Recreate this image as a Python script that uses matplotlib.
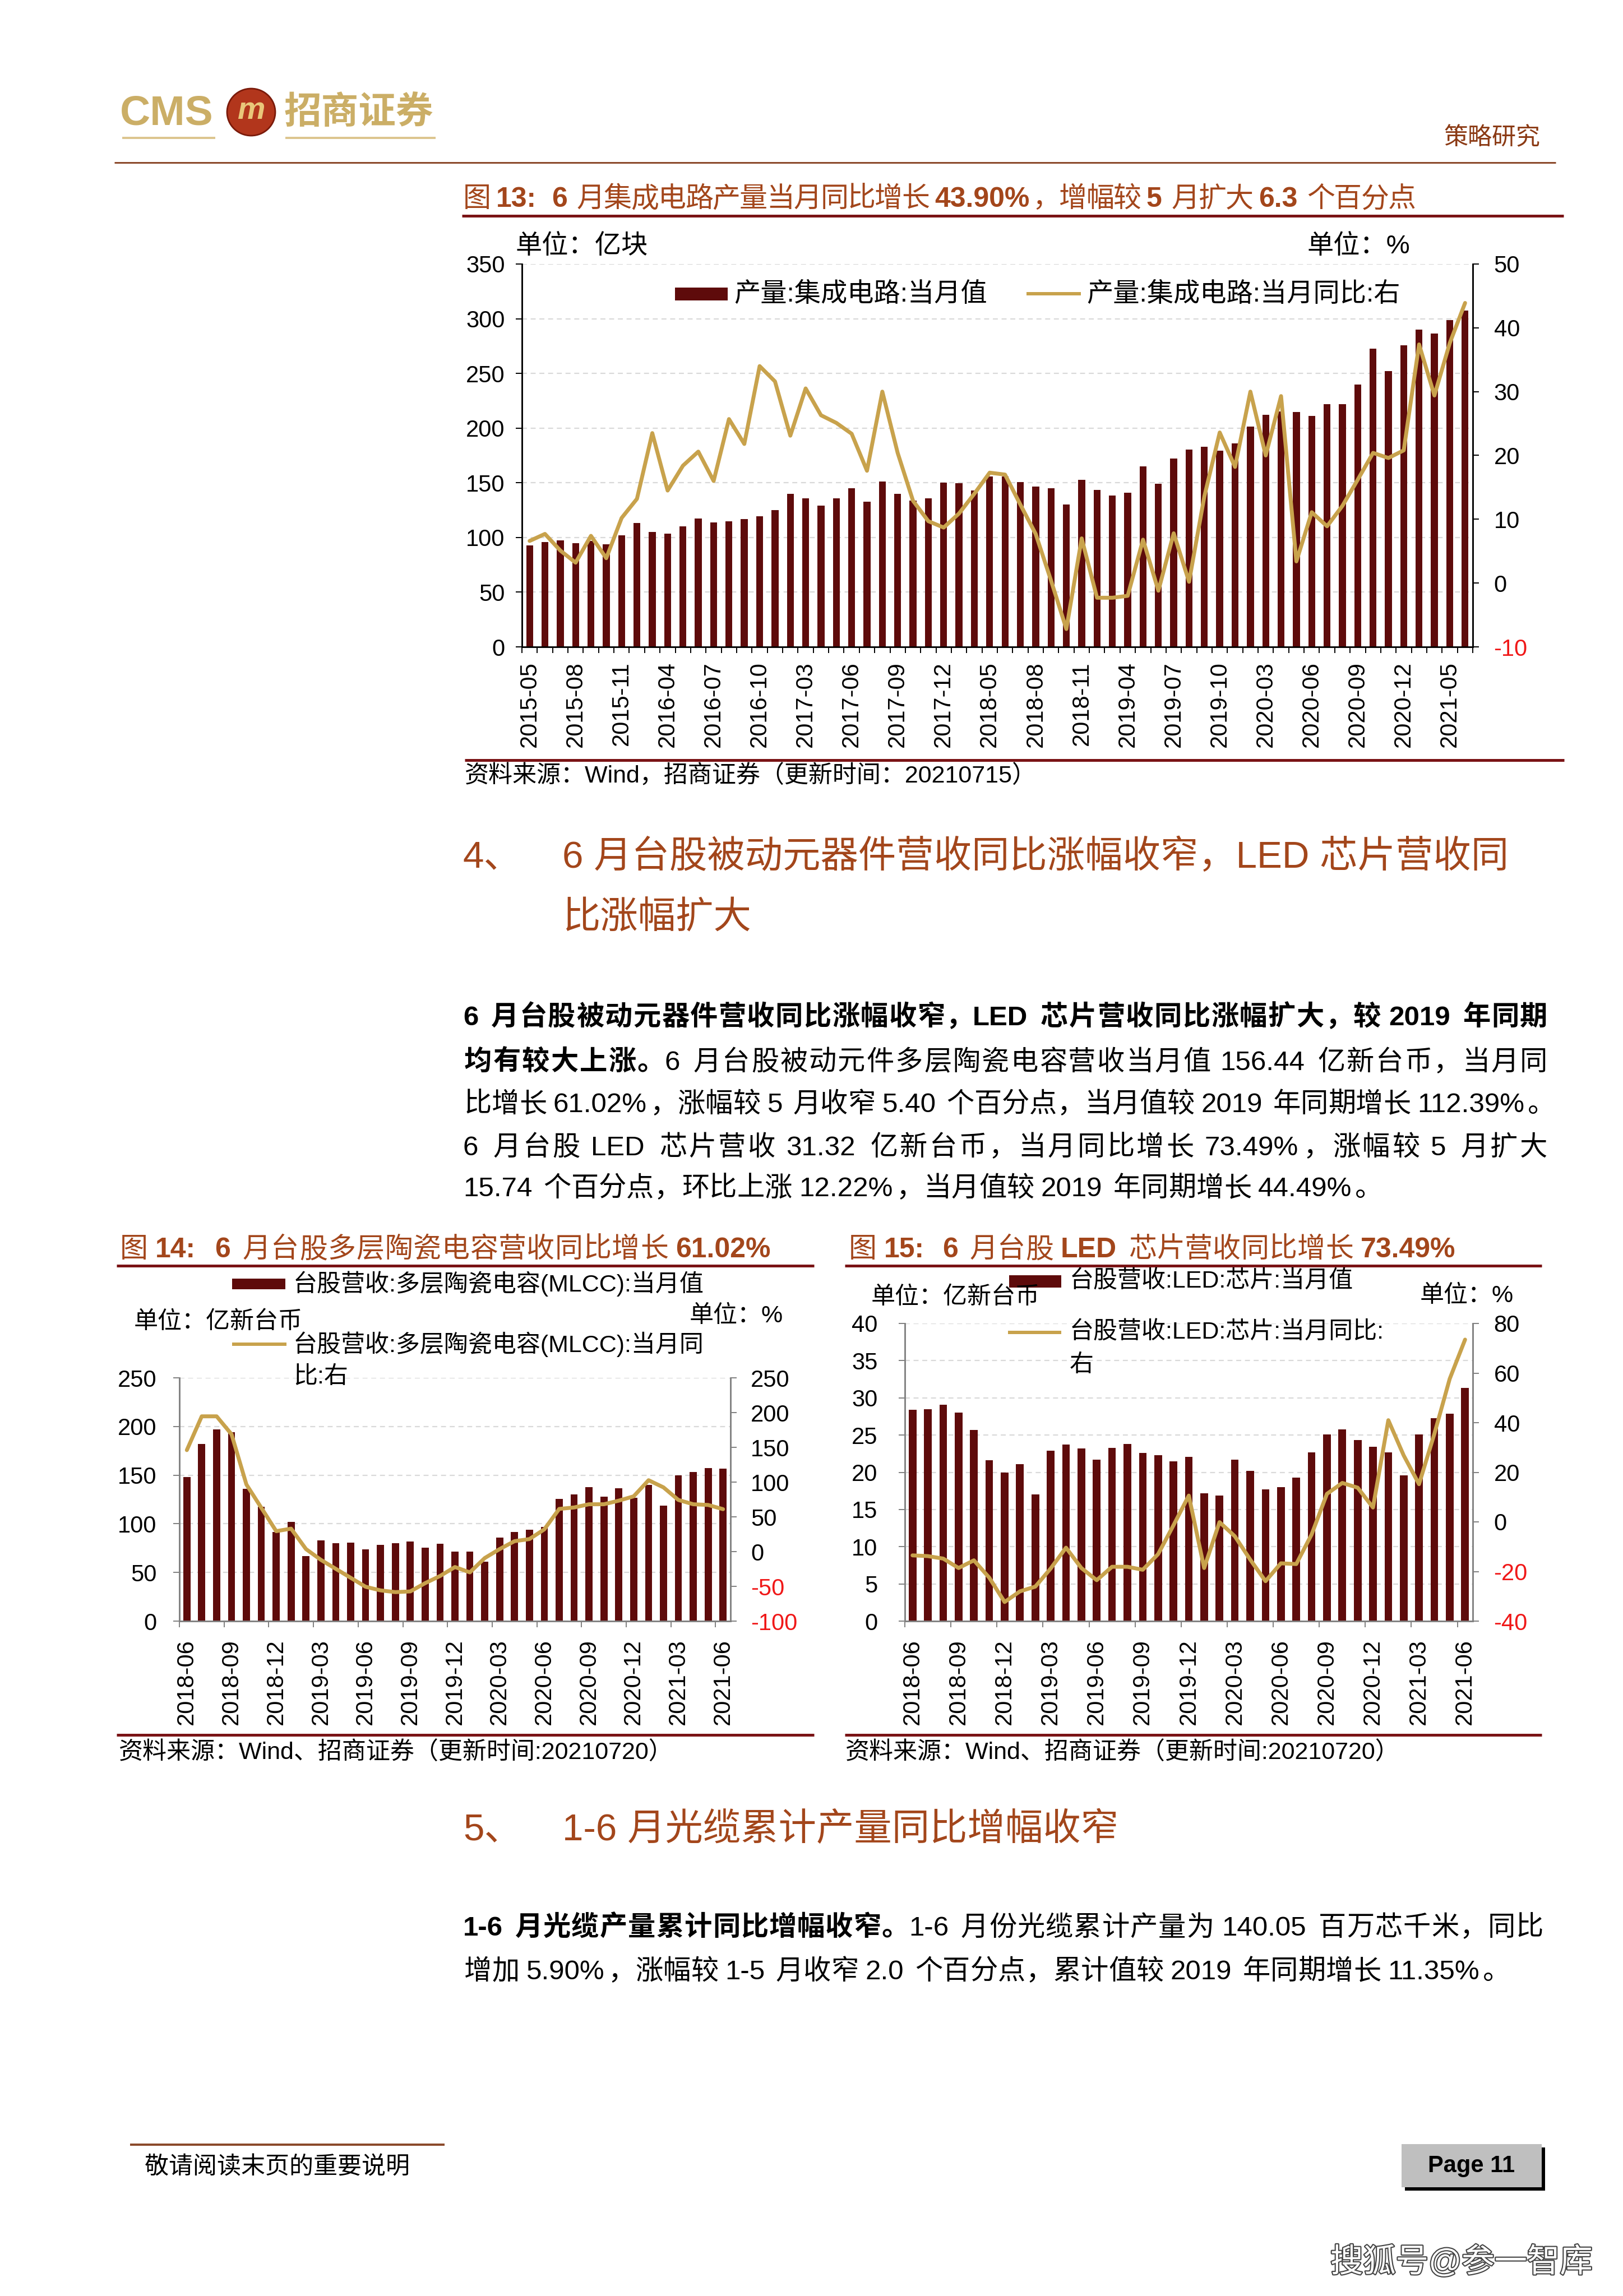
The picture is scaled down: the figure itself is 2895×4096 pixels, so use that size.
import numpy as np
import matplotlib
matplotlib.use("Agg")
import matplotlib.pyplot as plt
import matplotlib.patheffects as pe
from matplotlib.patches import Rectangle, Ellipse
from matplotlib.lines import Line2D

W, H, DPI = 2895, 4096, 100
LAT, CJK = "Liberation Sans", "Noto Sans CJK SC"
plt.rcParams["font.family"] = [LAT, CJK]

BAR = "#5E0B0B"
GOLD = "#C8A24C"
BROWN = "#A3461B"
RULE = "#7A1315"
RED = "#F01818"
GRID = "#D9D9D9"

# --- 图13: 集成电路产量 (当月值 亿块, 当月同比 %) ---
ic_months = [f"2015-{m:02d}" for m in range(5, 13)]
for yr in range(2016, 2021):
    ic_months += [f"{yr}-{m:02d}" for m in range(3, 13)]
ic_months += [f"2021-{m:02d}" for m in range(3, 7)]
ic_ticks = ["2015-05", "2015-08", "2015-11", "2016-04", "2016-07", "2016-10",
            "2017-03", "2017-06", "2017-09", "2017-12", "2018-05", "2018-08",
            "2018-11", "2019-04", "2019-07", "2019-10", "2020-03", "2020-06",
            "2020-09", "2020-12", "2021-05"]
ic_output = [92.6, 96.0, 97.5, 95.0, 96.8, 94.0, 102.0, 113.0, 105.0, 103.7,
             110.0, 117.4, 114.0, 115.0, 116.6, 119.4, 125.0, 140.0, 136.0, 129.0,
             135.7, 145.0, 132.8, 151.4, 140.0, 134.0, 136.0, 150.0, 149.6, 143.0,
             156.0, 156.0, 150.6, 146.7, 145.2, 130.3, 152.6, 143.7, 138.2, 141.0,
             165.0, 148.9, 172.2, 180.4, 183.1, 179.4, 185.9, 201.2, 212.2, 215.0,
             214.6, 211.0, 221.8, 221.8, 240.0, 272.7, 251.9, 275.7, 290.3, 286.6,
             298.5, 307.7]
ic_yoy = [6.6, 7.7, 5.1, 3.2, 7.4, 3.9, 10.2, 13.2, 23.5, 14.5,
          18.4, 20.6, 16.0, 25.7, 21.8, 34.0, 31.6, 23.1, 30.5, 26.3,
          25.1, 23.4, 17.6, 30.0, 20.4, 12.9, 9.7, 8.7, 10.9, 14.0,
          17.3, 17.0, 12.3, 7.7, 0.4, -7.2, 7.0, -2.3, -2.3, -2.0,
          6.8, -1.2, 7.8, 0.2, 13.6, 23.6, 18.2, 30.0, 20.0, 29.3,
          3.4, 11.1, 8.9, 12.1, 16.2, 20.4, 19.6, 20.8, 37.4, 29.4,
          37.6, 43.9]

# --- 图14 / 图15: 台股营收 2018-06 ~ 2021-06 ---
tw_months = [f"{2018 + (5 + i) // 12}-{(5 + i) % 12 + 1:02d}" for i in range(37)]
tw_ticks = ["2018-06", "2018-09", "2018-12", "2019-03", "2019-06", "2019-09",
            "2019-12", "2020-03", "2020-06", "2020-09", "2020-12", "2021-03",
            "2021-06"]
mlcc_rev = [148.2, 181.8, 196.9, 194.0, 136.0, 117.3, 91.8, 102.0, 66.7, 83.0,
            80.0, 80.8, 73.7, 78.5, 80.0, 81.9, 75.6, 79.6, 71.2, 71.2,
            61.2, 86.0, 91.8, 94.0, 97.0, 125.7, 130.2, 137.9, 127.6, 136.4,
            127.0, 140.0, 118.4, 150.0, 153.4, 157.0, 156.44]
mlcc_yoy = [146.0, 194.6, 194.6, 168.8, 96.5, 63.0, 29.4, 33.0, 3.6, -11.9,
            -24.8, -37.7, -50.6, -55.8, -58.3, -57.3, -45.4, -35.1, -22.2, -29.9,
            -9.3, 3.6, 15.0, 18.0, 32.0, 61.4, 63.5, 68.1, 68.1, 73.3,
            79.5, 102.7, 92.4, 74.3, 68.1, 67.1, 61.02]
led_rev = [28.4, 28.5, 29.1, 28.0, 25.7, 21.6, 20.0, 21.1, 17.0, 22.9,
           23.7, 23.2, 21.7, 23.3, 23.8, 22.6, 22.3, 21.5, 22.1, 17.2,
           16.9, 21.7, 20.2, 17.7, 18.0, 19.3, 22.7, 25.1, 25.8, 24.3,
           23.4, 22.7, 19.6, 25.1, 27.3, 27.9, 31.32]
led_yoy = [-13.5, -13.8, -14.8, -18.6, -15.5, -22.5, -32.3, -28.0, -26.1, -18.8,
           -10.4, -18.6, -23.5, -18.1, -18.1, -19.3, -13.0, -1.4, 10.6, -18.6,
           -0.1, -5.8, -15.2, -23.9, -16.7, -17.0, -5.1, 11.3, 15.7, 13.8,
           5.8, 41.0, 26.8, 15.2, 35.5, 57.7, 73.49]

fig = plt.figure(figsize=(W / DPI, H / DPI), dpi=DPI)
fig.patch.set_facecolor("white")
renderer = fig.canvas.get_renderer()


def fx(x):
    return x / W


def fy(y):
    return 1 - y / H


def rect(l, t, r, b):
    return [l / W, 1 - b / H, (r - l) / W, (b - t) / H]


def hline(x0, x1, y, color, lw_px):
    fig.add_artist(Line2D([fx(x0), fx(x1)], [fy(y), fy(y)], color=color,
                          lw=lw_px * 72 / DPI, solid_capstyle="butt"))


def box(x0, y0, x1, y1, color, z=1):
    fig.add_artist(Rectangle((fx(x0), fy(y1)), (x1 - x0) / W, (y1 - y0) / H,
                             facecolor=color, edgecolor="none", zorder=z))


def label(x, y, s, size, color="black", ha="left", **kw):
    return fig.text(fx(x), fy(y), s, fontsize=size, color=color, ha=ha,
                    va="center", **kw)


def is_cjk(ch):
    return ord(ch) > 0x2E80


def tokenize(runs):
    toks = []
    for s, b in runs:
        buf = ""
        for ch in s:
            if ch == " " or is_cjk(ch):
                if buf:
                    toks.append((buf, b, "l"))
                    buf = ""
                toks.append((ch, b, "s" if ch == " " else "c"))
            else:
                buf += ch
        if buf:
            toks.append((buf, b, "l"))
    return toks


def draw_runs(x0, yc, runs, size, color="black", x1=None):
    # lay out text piece by piece so mixed weights / justified lines work
    em = size * DPI / 72
    base = fy(yc + 0.36 * em)
    toks = tokenize(runs)
    arts, widths = [], []
    for t, b, k in toks:
        if k == "s":
            arts.append(None)
            widths.append(0.28 * em)
            continue
        a = fig.text(0, base, t, fontsize=size, color=color, ha="left",
                     va="baseline", fontweight="bold" if b else "normal")
        arts.append((a, k, t))
        if k == "c":
            widths.append(em)
        else:
            widths.append(a.get_window_extent(renderer).width + 0.08 * em)
    gap = 0.0
    if x1 is not None and len(toks) > 1:
        gap = (x1 - x0 - sum(widths)) / (len(toks) - 1)
    x = x0
    for a, w in zip(arts, widths):
        if a is not None:
            off = 0.45 * em if a[2] in "（“《" else 0.04 * em if a[1] == "c" else 0
            a[0].set_x(fx(x + off))
        x += w + gap


def draw_combo(box_px, months, ticks, bars, line, bar_w, lticks, rticks,
               spine_c, size, step, lpad, rpad, xpad):
    x = np.arange(len(months))
    ax = fig.add_axes(rect(*box_px))
    ax.bar(x, bars, width=bar_w, color=BAR, zorder=2)
    ax.set_xlim(-0.5, len(months) - 0.5)
    ax.set_ylim(lticks[0], lticks[-1])
    ax.set_yticks(lticks)
    ax.set_yticklabels([str(v) for v in lticks])
    ax.grid(axis="y", color=GRID, ls=(0, (4, 3)), lw=1.6)
    ax.set_axisbelow(True)
    ax.set_xticks([months.index(t) for t in ticks])
    ax.set_xticklabels(ticks, rotation=90)
    ax.set_xticks(np.arange(-0.5, len(months), step), minor=True)
    ax.tick_params(axis="x", which="major", length=0, pad=xpad, labelsize=size)
    ax.tick_params(axis="x", which="minor", length=8, width=1.4, color=spine_c)
    ax.tick_params(axis="y", length=8, width=1.4, color=spine_c, pad=lpad,
                   labelsize=size)
    ax.spines["top"].set_visible(False)
    ax2 = ax.twinx()
    ax2.plot(x, line, color=GOLD, lw=5, solid_joinstyle="round",
             solid_capstyle="round", zorder=3)
    ax2.set_ylim(rticks[0], rticks[-1])
    ax2.set_yticks(rticks)
    ax2.set_yticklabels([str(v) for v in rticks])
    for lbl, v in zip(ax2.get_yticklabels(), rticks):
        if v < 0:
            lbl.set_color(RED)
    ax2.tick_params(axis="y", length=8, width=1.4, color=spine_c, pad=rpad,
                    labelsize=size)
    ax2.spines["top"].set_visible(False)
    for a in (ax, ax2):
        for s in ("left", "bottom", "right"):
            a.spines[s].set_color(spine_c)
            a.spines[s].set_linewidth(1.8)
    return ax, ax2


# --- page header ---
label(214, 203, "CMS", 54, color="#CBAE66", fontweight="bold")
fig.add_artist(Ellipse((fx(448), fy(200)), 86 / W, 84 / H, facecolor="#B2361C",
                       edgecolor="#7A1A0A", lw=2))
label(448, 198, "m", 40, color="#E9C77A", ha="center", fontweight="bold",
      fontstyle="italic")
label(507, 203, "招商证券", 48, color="#CBAE66", fontweight="bold")
hline(218, 384, 246, "#DCC58F", 4)
hline(509, 777, 246, "#DCC58F", 4)
label(2576, 247, "策略研究", 31, color="#8B3A14")
hline(204, 2775, 290, "#8B4A2B", 3)

# --- 图13 ---
draw_runs(824, 351, [("图 ", False), ("13:", True), ("  6 ", True),
                     ("月集成电路产量当月同比增长 ", False), ("43.90%", True),
                     ("，增幅较 ", False), ("5", True), (" 月扩大 ", False),
                     ("6.3", True), (" 个百分点", False)], 36, BROWN, x1=2524)
hline(824, 2789, 385, RULE, 5)
draw_combo((931, 471, 2627, 1154), ic_months, ic_ticks, ic_output, ic_yoy, 0.45,
           list(range(0, 351, 50)), list(range(-10, 51, 10)), "black", 30, 1,
           14, 19, 19)
label(920, 440, "单位：亿块", 34)
label(2332, 440, "单位：%", 34)
box(1204, 513, 1298, 536, BAR)
label(1309, 526, "产量:集成电路:当月值", 34)
hline(1831, 1928, 524, GOLD, 6)
label(1938, 526, "产量:集成电路:当月同比:右", 34)
hline(829, 2790, 1356, RULE, 5)
label(829, 1385, "资料来源：Wind，招商证券（更新时间：20210715）", 31)

# --- section 4 ---
label(826, 1530, "4、", 48.5, color=BROWN)
label(1003, 1530, "6 月台股被动元器件营收同比涨幅收窄，LED 芯片营收同", 48.5, color=BROWN)
label(1003, 1639, "比涨幅扩大", 48.5, color=BROWN)

body1 = [
    [("6 月台股被动元器件营收同比涨幅收窄，LED 芯片营收同比涨幅扩大，较 2019 年同期", True)],
    [("均有较大上涨。", True), ("6 月台股被动元件多层陶瓷电容营收当月值 156.44 亿新台币，当月同", False)],
    [("比增长 61.02%，涨幅较 5 月收窄 5.40 个百分点，当月值较 2019 年同期增长 112.39%。", False)],
    [("6 月台股 LED 芯片营收 31.32 亿新台币，当月同比增长 73.49%，涨幅较 5 月扩大", False)],
    [("15.74 个百分点，环比上涨 12.22%，当月值较 2019 年同期增长 44.49%。", False)],
]
body1_y = [1811, 1891, 1966, 2043, 2116]
body1_end = [2758, 2758, 2772, 2758, None]
for runs, yy, xe in zip(body1, body1_y, body1_end):
    draw_runs(826, yy, runs, 35.5, "black", x1=xe)

# --- 图14 ---
draw_runs(212, 2225, [("图 ", False), ("14:", True), ("  6 ", True),
                      ("月台股多层陶瓷电容营收同比增长 ", False), ("61.02%", True)],
          36, BROWN, x1=1379)
hline(208, 1452, 2258, RULE, 5)
draw_combo((320, 2458, 1303, 2892), tw_months, tw_ticks, mlcc_rev, mlcc_yoy, 0.48,
           list(range(0, 251, 50)), list(range(-100, 251, 50)), "#808080", 30, 3,
           21, 18, 23)
box(414, 2281, 509, 2300, BAR)
label(523, 2290, "台股营收:多层陶瓷电容(MLCC):当月值", 31)
label(239, 2359, "单位：亿新台币", 31)
label(1230, 2348, "单位：%", 31)
hline(414, 511, 2398, GOLD, 6)
label(523, 2398, "台股营收:多层陶瓷电容(MLCC):当月同", 31)
label(523, 2457, "比:右", 31)
hline(208, 1452, 3095, RULE, 5)
label(212, 3127, "资料来源：Wind、招商证券（更新时间:20210720）", 31)

# --- 图15 ---
draw_runs(1512, 2225, [("图 ", False), ("15:", True), ("  6 ", True),
                       ("月台股 ", False), ("LED", True), (" 芯片营收同比增长 ", False),
                       ("73.49%", True)], 36, BROWN, x1=2600)
hline(1507, 2750, 2258, RULE, 5)
draw_combo((1614, 2361, 2627, 2892), tw_months, tw_ticks, led_rev, led_yoy, 0.5,
           list(range(0, 41, 5)), list(range(-40, 81, 20)), "#808080", 30, 3,
           27, 19, 23)
box(1800, 2275, 1893, 2297, BAR)
label(1908, 2286, "台股营收:LED:芯片:当月值", 31)
label(1554, 2315, "单位：亿新台币", 31)
label(2533, 2312, "单位：%", 31)
hline(1798, 1893, 2377, GOLD, 6)
label(1908, 2377, "台股营收:LED:芯片:当月同比:", 31)
label(1908, 2436, "右", 31)
hline(1507, 2750, 3095, RULE, 5)
label(1508, 3127, "资料来源：Wind、招商证券（更新时间:20210720）", 31)

# --- section 5 ---
label(826, 3265, "5、", 48.5, color=BROWN)
label(1003, 3265, "1-6 月光缆累计产量同比增幅收窄", 48.5, color=BROWN)
draw_runs(826, 3435, [("1-6 月光缆产量累计同比增幅收窄。", True),
                      ("1-6 月份光缆累计产量为 140.05 百万芯千米，同比", False)],
          35.5, "black", x1=2751)
draw_runs(826, 3513, [("增加 5.90%，涨幅较 1-5 月收窄 2.0 个百分点，累计值较 2019 年同期增长 11.35%。", False)],
          35.5, "black")

# --- footer ---
hline(232, 793, 3826, "#8B4A2B", 4)
label(258, 3867, "敬请阅读末页的重要说明", 31)
box(2506, 3831, 2756, 3908, "black", z=1)
box(2500, 3825, 2750, 3902, "#BFBFBF", z=2)
label(2625, 3864, "Page 11", 30, ha="center", fontweight="bold", zorder=3)
label(2607, 4036, "搜狐号@参一智库", 42, color="white", ha="center",
      path_effects=[pe.withStroke(linewidth=3, foreground="#444444")])

fig.savefig("out.png", dpi=DPI, facecolor="white")
